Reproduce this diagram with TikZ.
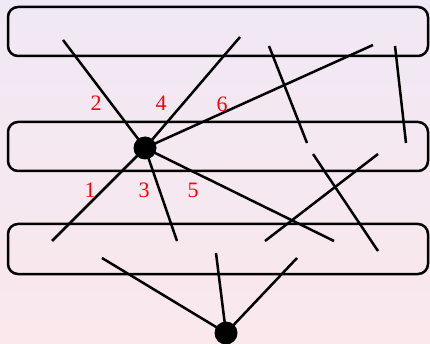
\documentclass[tikz,border=0pt]{standalone}
\usepackage{fontspec}
\setmainfont{Liberation Serif}
\begin{document}
\begin{tikzpicture}[x=1pt,y=-1pt,
  band/.style={draw=black,line width=2.5pt,rounded corners=10pt},
  seg/.style={draw=black,line width=2.5pt},
  dot/.style={circle,fill=black,inner sep=0pt,minimum size=23pt},
  lab/.style={text=red,font=\fontsize{22}{22}\selectfont,inner sep=0pt}]
\useasboundingbox (0,0) rectangle (430,344);
\shade[top color={rgb,255:red,240;green,232;blue,245},bottom color={rgb,255:red,250;green,232;blue,236}] (0,0) rectangle (430,344);
\draw[band] (8,7) rectangle (428,56);
\draw[band] (8,122) rectangle (428,171);
\draw[band] (8,224) rectangle (428,274);
\node[dot] (c) at (145,148) {};
\node[dot] (b) at (226,333) {};
\coordinate (e2) at (63,40);
\coordinate (e4) at (240,37);
\coordinate (e6) at (373,45);
\coordinate (e1) at (52,241);
\coordinate (e3) at (177,241);
\coordinate (e5) at (334,241);
\draw[seg] (c.center) -- (e2);
\draw[seg] (c.center) -- (e4);
\draw[seg] (c.center) -- (e6);
\draw[seg] (c.center) -- (e1);
\draw[seg] (c.center) -- (e3);
\draw[seg] (c.center) -- (e5);
\coordinate (p1) at (269,46); \coordinate (q1) at (307,143);
\coordinate (p2) at (395,46); \coordinate (q2) at (406,143);
\coordinate (p3) at (313,154); \coordinate (q3) at (378,251);
\coordinate (p4) at (378,154); \coordinate (q4) at (265,241);
\draw[seg] (p1) -- (q1);
\draw[seg] (p2) -- (q2);
\draw[seg] (p3) -- (q3);
\draw[seg] (p4) -- (q4);
\coordinate (f1) at (102,258);
\coordinate (f2) at (216,253);
\coordinate (f3) at (297,258);
\draw[seg] (b.center) -- (f1);
\draw[seg] (b.center) -- (f2);
\draw[seg] (b.center) -- (f3);
\node[lab] (l2) at (96,103) {2};
\node[lab] (l4) at (161,103) {4};
\node[lab] (l6) at (222,104) {6};
\node[lab] (l1) at (90,190) {1};
\node[lab] (l3) at (144,190) {3};
\node[lab] (l5) at (193,190) {5};
\end{tikzpicture}
\end{document}
